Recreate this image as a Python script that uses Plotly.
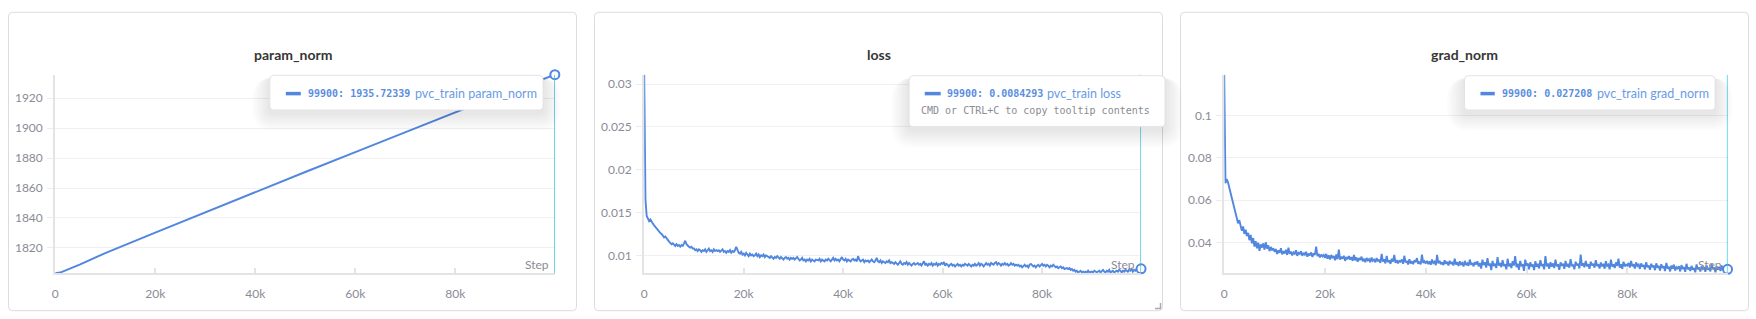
import plotly.graph_objects as go

W, H = 1756, 319

# ---------------- data ----------------
steps = list(range(0, 100000, 250)) + [99900]

param_steps = [0, 1000, 5000, 10000, 20000, 30000, 40000, 50000, 60000, 70000, 80000, 90000, 99900]
param_norm = [1803.0, 1803.5, 1809.0, 1816.5, 1830.2, 1843.8, 1857.3, 1870.7, 1884.0, 1897.3, 1910.5, 1923.3, 1935.72339]

loss = [
    0.0312, 0.0165, 0.0146, 0.0142, 0.0140, 0.0142, 0.0139, 0.0137, 0.0135, 0.0133,
    0.0131, 0.0130, 0.0127, 0.0126, 0.0125, 0.0123, 0.0121, 0.0122, 0.0119, 0.0118,
    0.0116, 0.0115, 0.0113, 0.0114, 0.0112, 0.0111, 0.0113, 0.0111, 0.0112, 0.0110,
    0.0112, 0.0111, 0.0114, 0.0117, 0.0113, 0.0111, 0.0110, 0.0109, 0.0110, 0.0108,
    0.0108, 0.0106, 0.0107, 0.0105, 0.0107, 0.0106, 0.0104, 0.0106, 0.0105, 0.0107,
    0.0104, 0.0106, 0.0108, 0.0105, 0.0106, 0.0104, 0.0107, 0.0105, 0.0106, 0.0105,
    0.0106, 0.0104, 0.0105, 0.0107, 0.0104, 0.0105, 0.0103, 0.0105, 0.0104, 0.0106,
    0.0103, 0.0105, 0.0104, 0.0106, 0.0110, 0.0105, 0.0103, 0.0102, 0.0104, 0.0101,
    0.0102, 0.0100, 0.0103, 0.0101, 0.0099, 0.0102, 0.0100, 0.0101, 0.0099, 0.0100,
    0.0102, 0.0099, 0.0101, 0.0098, 0.0100, 0.0099, 0.0101, 0.0098, 0.0100, 0.0099,
    0.0098, 0.0097, 0.0099, 0.0098, 0.0096, 0.0098, 0.0097, 0.0099, 0.0097, 0.0096,
    0.0098, 0.0097, 0.0095, 0.0097, 0.0098, 0.0096, 0.0097, 0.0095, 0.0097, 0.0096,
    0.0097, 0.0095, 0.0096, 0.0098, 0.0096, 0.0094, 0.0095, 0.0097, 0.0094, 0.0095,
    0.0093, 0.0095, 0.0094, 0.0096, 0.0093, 0.0095, 0.0094, 0.0093, 0.0095, 0.0094,
    0.0094, 0.0096, 0.0093, 0.0095, 0.0094, 0.0093, 0.0095, 0.0094, 0.0096, 0.0095,
    0.0093, 0.0095, 0.0097, 0.0094, 0.0096, 0.0094, 0.0095, 0.0093, 0.0096, 0.0098,
    0.0095, 0.0094, 0.0096, 0.0093, 0.0095, 0.0094, 0.0093, 0.0095, 0.0096, 0.0094,
    0.0095, 0.0093, 0.0099, 0.0095, 0.0093, 0.0094, 0.0095, 0.0092, 0.0094, 0.0093,
    0.0094, 0.0092, 0.0093, 0.0095, 0.0093, 0.0092, 0.0094, 0.0097, 0.0093, 0.0092,
    0.0094, 0.0091, 0.0093, 0.0092, 0.0091, 0.0093, 0.0092, 0.0094, 0.0091, 0.0092,
    0.0091, 0.0090, 0.0092, 0.0090, 0.0089, 0.0091, 0.0093, 0.0090, 0.0089, 0.0091,
    0.0090, 0.0092, 0.0089, 0.0091, 0.0090, 0.0088, 0.0090, 0.0091, 0.0089, 0.0090,
    0.0091, 0.0089, 0.0090, 0.0088, 0.0090, 0.0093, 0.0089, 0.0090, 0.0088, 0.0090,
    0.0089, 0.0091, 0.0088, 0.0090, 0.0089, 0.0091, 0.0088, 0.0090, 0.0089, 0.0091,
    0.0090, 0.0092, 0.0088, 0.0090, 0.0089, 0.0087, 0.0089, 0.0090, 0.0088, 0.0089,
    0.0087, 0.0089, 0.0090, 0.0088, 0.0089, 0.0087, 0.0089, 0.0088, 0.0090, 0.0089,
    0.0088, 0.0090, 0.0089, 0.0087, 0.0089, 0.0088, 0.0090, 0.0088, 0.0089, 0.0091,
    0.0088, 0.0090, 0.0089, 0.0087, 0.0089, 0.0091, 0.0089, 0.0090, 0.0088, 0.0091,
    0.0090, 0.0089, 0.0091, 0.0092, 0.0089, 0.0091, 0.0090, 0.0088, 0.0090, 0.0089,
    0.0091, 0.0089, 0.0090, 0.0088, 0.0089, 0.0091, 0.0089, 0.0090, 0.0088, 0.0089,
    0.0088, 0.0089, 0.0087, 0.0088, 0.0086, 0.0088, 0.0089, 0.0087, 0.0088, 0.0086,
    0.0089, 0.0090, 0.0088, 0.0087, 0.0088, 0.0086, 0.0088, 0.0089, 0.0087, 0.0089,
    0.0090, 0.0088, 0.0089, 0.0087, 0.0089, 0.0088, 0.0086, 0.0088, 0.0087, 0.0089,
    0.0087, 0.0086, 0.0087, 0.0085, 0.0086, 0.0087, 0.0085, 0.0086, 0.0084, 0.0085,
    0.0085, 0.0084, 0.0085, 0.0083, 0.0084, 0.0082, 0.0083, 0.0081, 0.0082, 0.0080,
    0.0081, 0.0082, 0.0080, 0.0081, 0.0080, 0.0081, 0.0080, 0.0082, 0.0080, 0.0081,
    0.0081, 0.0080, 0.0082, 0.0081, 0.0080, 0.0081, 0.0082, 0.0080, 0.0081, 0.0083,
    0.0081, 0.0080, 0.0082, 0.0081, 0.0083, 0.0080, 0.0081, 0.0082, 0.0080, 0.0081,
    0.0082, 0.0081, 0.0083, 0.0082, 0.0080, 0.0082, 0.0081, 0.0083, 0.0082, 0.0081,
    0.0083, 0.0082, 0.0084, 0.0081, 0.0083, 0.0082, 0.0084, 0.0082, 0.0083, 0.0084,
    0.0084293,
]

grad_norm = [
    0.1195, 0.0680, 0.0700, 0.0685, 0.0660, 0.0635, 0.0600, 0.0575, 0.0555, 0.0530,
    0.0515, 0.0490, 0.0505, 0.0470, 0.0455, 0.0475, 0.0440, 0.0460, 0.0430, 0.0445,
    0.0410, 0.0435, 0.0395, 0.0420, 0.0380, 0.0405, 0.0372, 0.0398, 0.0360, 0.0390,
    0.0375, 0.0395, 0.0365, 0.0400, 0.0370, 0.0385, 0.0358, 0.0378, 0.0362, 0.0372,
    0.0355, 0.0368, 0.0345, 0.0362, 0.0350, 0.0372, 0.0343, 0.0358, 0.0347, 0.0365,
    0.0340, 0.0375, 0.0345, 0.0356, 0.0338, 0.0352, 0.0346, 0.0362, 0.0336, 0.0350,
    0.0345, 0.0358, 0.0336, 0.0350, 0.0342, 0.0355, 0.0332, 0.0346, 0.0338, 0.0352,
    0.0330, 0.0348, 0.0340, 0.0380, 0.0335, 0.0345, 0.0328, 0.0342, 0.0333, 0.0340,
    0.0326, 0.0345, 0.0322, 0.0338, 0.0318, 0.0340, 0.0325, 0.0335, 0.0315, 0.0342,
    0.0320, 0.0365, 0.0318, 0.0332, 0.0322, 0.0336, 0.0312, 0.0330, 0.0320, 0.0335,
    0.0318, 0.0330, 0.0312, 0.0340, 0.0315, 0.0328, 0.0308, 0.0325, 0.0316, 0.0332,
    0.0310, 0.0322, 0.0306, 0.0326, 0.0314, 0.0320, 0.0305, 0.0328, 0.0312, 0.0318,
    0.0305, 0.0325, 0.0310, 0.0318, 0.0302, 0.0345, 0.0308, 0.0320, 0.0300, 0.0335,
    0.0306, 0.0315, 0.0298, 0.0322, 0.0308, 0.0340, 0.0302, 0.0316, 0.0300, 0.0312,
    0.0308, 0.0318, 0.0298, 0.0336, 0.0305, 0.0312, 0.0295, 0.0320, 0.0300, 0.0310,
    0.0296, 0.0315, 0.0305, 0.0325, 0.0298, 0.0308, 0.0295, 0.0342, 0.0302, 0.0310,
    0.0300, 0.0312, 0.0296, 0.0310, 0.0294, 0.0318, 0.0302, 0.0308, 0.0292, 0.0340,
    0.0300, 0.0312, 0.0296, 0.0305, 0.0292, 0.0315, 0.0298, 0.0308, 0.0290, 0.0312,
    0.0298, 0.0306, 0.0290, 0.0322, 0.0295, 0.0305, 0.0288, 0.0310, 0.0296, 0.0302,
    0.0285, 0.0312, 0.0292, 0.0300, 0.0288, 0.0318, 0.0294, 0.0302, 0.0286, 0.0306,
    0.0295, 0.0310, 0.0286, 0.0302, 0.0275, 0.0318, 0.0292, 0.0305, 0.0280, 0.0325,
    0.0290, 0.0300, 0.0268, 0.0312, 0.0288, 0.0298, 0.0278, 0.0330, 0.0290, 0.0302,
    0.0282, 0.0315, 0.0288, 0.0296, 0.0272, 0.0322, 0.0286, 0.0300, 0.0278, 0.0310,
    0.0290, 0.0335, 0.0282, 0.0298, 0.0270, 0.0312, 0.0286, 0.0296, 0.0265, 0.0318,
    0.0288, 0.0300, 0.0272, 0.0305, 0.0285, 0.0295, 0.0268, 0.0310, 0.0284, 0.0298,
    0.0276, 0.0315, 0.0288, 0.0296, 0.0272, 0.0335, 0.0286, 0.0300, 0.0275, 0.0306,
    0.0284, 0.0300, 0.0278, 0.0318, 0.0286, 0.0296, 0.0270, 0.0305, 0.0288, 0.0299,
    0.0274, 0.0312, 0.0285, 0.0298, 0.0280, 0.0320, 0.0287, 0.0295, 0.0272, 0.0308,
    0.0290, 0.0298, 0.0276, 0.0342, 0.0288, 0.0300, 0.0282, 0.0312, 0.0286, 0.0296,
    0.0274, 0.0308, 0.0290, 0.0298, 0.0280, 0.0315, 0.0288, 0.0296, 0.0276, 0.0304,
    0.0286, 0.0298, 0.0275, 0.0310, 0.0288, 0.0294, 0.0272, 0.0318, 0.0285, 0.0296,
    0.0278, 0.0305, 0.0288, 0.0322, 0.0280, 0.0296, 0.0274, 0.0308, 0.0286, 0.0294,
    0.0290, 0.0302, 0.0280, 0.0312, 0.0286, 0.0296, 0.0276, 0.0305, 0.0288, 0.0294,
    0.0274, 0.0300, 0.0284, 0.0292, 0.0272, 0.0306, 0.0282, 0.0290, 0.0270, 0.0298,
    0.0282, 0.0290, 0.0268, 0.0300, 0.0280, 0.0288, 0.0266, 0.0296, 0.0278, 0.0286,
    0.0264, 0.0302, 0.0276, 0.0284, 0.0262, 0.0290, 0.0275, 0.0294, 0.0266, 0.0282,
    0.0276, 0.0286, 0.0262, 0.0292, 0.0274, 0.0282, 0.0260, 0.0298, 0.0272, 0.0280,
    0.0264, 0.0288, 0.0270, 0.0278, 0.0258, 0.0295, 0.0272, 0.0280, 0.0262, 0.0286,
    0.0274, 0.0282, 0.0260, 0.0290, 0.0270, 0.0278, 0.0262, 0.0296, 0.0272, 0.0280,
    0.0258, 0.0286, 0.0270, 0.0284, 0.0264, 0.0290, 0.0268, 0.0278, 0.0262, 0.0276,
    0.027208,
]

titles = ["param_norm", "loss", "grad_norm"]
run_name = "pvc_train"
last_labels = ["1935.72339", "0.0084293", "0.027208"]
last_step = 99900

x_tickvals = [0, 20000, 40000, 60000, 80000]
x_ticktext = ["0", "20k", "40k", "60k", "80k"]
y_ticks = [
    ([1820, 1840, 1860, 1880, 1900, 1920], ["1820", "1840", "1860", "1880", "1900", "1920"]),
    ([0.01, 0.015, 0.02, 0.025, 0.03], ["0.01", "0.015", "0.02", "0.025", "0.03"]),
    ([0.04, 0.06, 0.08, 0.1], ["0.04", "0.06", "0.08", "0.1"]),
]
y_ranges = [[1803.0, 1935.72339], [0.0079, 0.0311], [0.0253, 0.1195]]

# ---------------- layout helpers ----------------
BLUE = "#5187de"
CYAN = "#27c2d6"
GREY = "#8a8b96"


def px(x):
    return x / W


def py(y):
    return 1 - y / H


def rrect(x0, y0, x1, y1, r):
    def P(x, y):
        return f"{px(x):.6f},{py(y):.6f}"
    return (f"M {P(x0 + r, y0)} L {P(x1 - r, y0)} Q {P(x1, y0)} {P(x1, y0 + r)} "
            f"L {P(x1, y1 - r)} Q {P(x1, y1)} {P(x1 - r, y1)} L {P(x0 + r, y1)} "
            f"Q {P(x0, y1)} {P(x0, y1 - r)} L {P(x0, y0 + r)} Q {P(x0, y0)} {P(x0 + r, y0)} Z")


panels = [(5.5, 574.5), (592.5, 1161.5), (1179.5, 1748.5)]
panel_top, panel_bot = 12.3, 310.7
plot_x = [(52.3, 552.8), (642.3, 1140.0), (1223.3, 1727.5)]
plot_top, plot_bot = 74.7, 273.3

fig = go.Figure()

series = [(param_steps, param_norm), (steps, loss), (steps, grad_norm)]
line_widths = [2.0, 1.9, 1.9]
for i, (xs, ys) in enumerate(series):
    xa = "x" if i == 0 else f"x{i+1}"
    ya = "y" if i == 0 else f"y{i+1}"
    fig.add_trace(go.Scatter(x=xs, y=ys, mode="lines", xaxis=xa, yaxis=ya,
                             line=dict(color=BLUE, width=line_widths[i]),
                             hoverinfo="skip", showlegend=False))

layout = dict(width=W, height=H, margin=dict(l=0, r=0, t=0, b=0),
              paper_bgcolor="white", plot_bgcolor="rgba(0,0,0,0)",
              font=dict(family="Lato", size=12, color=GREY), hovermode=False)

for i in range(3):
    sx = "" if i == 0 else str(i + 1)
    x0, x1 = plot_x[i]
    layout["xaxis" + sx] = dict(
        domain=[px(x0), px(x1)], range=[0, last_step], anchor="y" + sx,
        showgrid=False, zeroline=False, showline=True, linecolor="#e4e4e6", linewidth=2,
        ticks="inside", ticklen=5, tickwidth=2, tickcolor="#e4e4e6",
        tickvals=x_tickvals, ticktext=x_ticktext, ticklabelstandoff=8,
        tickfont=dict(family="Lato", size=12, color=GREY), fixedrange=True)
    layout["yaxis" + sx] = dict(
        domain=[py(plot_bot), py(plot_top)], range=y_ranges[i], anchor="x" + sx,
        showgrid=True, gridcolor="#f0f0f2", gridwidth=1, zeroline=False,
        showline=True, linecolor="#e4e4e6", linewidth=2,
        ticks="outside", ticklen=6, tickwidth=1, tickcolor="#ececee",
        tickvals=y_ticks[i][0], ticktext=y_ticks[i][1], ticklabelstandoff=2,
        tickfont=dict(family="Lato", size=12, color=GREY), fixedrange=True)

shapes = []
annotations = []

# panel boxes
for (a, b) in panels:
    shapes.append(dict(type="path", path=rrect(a, panel_top, b, panel_bot, 4),
                       xref="paper", yref="paper", line=dict(color="#dcdcde", width=1),
                       fillcolor="white", layer="below"))

# cyan hover line
for i in range(3):
    xa = "x" if i == 0 else f"x{i+1}"
    shapes.append(dict(type="line", xref=xa, yref="paper", x0=last_step, x1=last_step,
                       y0=py(plot_bot), y1=py(plot_top), line=dict(color=CYAN, width=1.3),
                       layer="above"))

# resize handle on the middle panel
shapes.append(dict(type="path",
                   path=f"M {px(1159.5)},{py(303)} L {px(1159.5)},{py(308.5)} L {px(1154)},{py(308.5)}",
                   xref="paper", yref="paper", line=dict(color="#a9a9ad", width=1.5)))

# titles and Step labels
for i, (a, b) in enumerate(panels):
    annotations.append(dict(text=f"<b>{titles[i]}</b>", x=px((a + b) / 2), y=py(54.5),
                            xref="paper", yref="paper", showarrow=False,
                            xanchor="center", yanchor="middle",
                            font=dict(family="Lato", size=14, color="#363636")))
    annotations.append(dict(text="Step", x=px(plot_x[i][1] - 6), y=py(264.5),
                            xref="paper", yref="paper", showarrow=False,
                            xanchor="right", yanchor="middle", borderpad=0, borderwidth=0,
                            font=dict(family="Lato", size=12, color=GREY)))

# tooltips
tooltips = [
    dict(box=(267.3, 75.3, 541.0, 110.0), sw=(283.3, 298.3), mono=306.0, sans=412.3, extra=None),
    dict(box=(907.7, 75.7, 1164.0, 126.7), sw=(923.3, 939.3), mono=945.3, sans=1045.7, extra=920.0),
    dict(box=(1464.0, 75.7, 1715.0, 110.0), sw=(1480.0, 1494.3), mono=1501.7, sans=1596.7, extra=None),
]
for i, t in enumerate(tooltips):
    x0, y0, x1, y1 = t["box"]
    for k in range(1, 9):
        e = 2.2 * k
        shapes.append(dict(type="path", path=rrect(x0 - e, y0 + 2, x1 + e, y1 + 3 + e, 4 + e),
                           xref="paper", yref="paper", line=dict(width=0),
                           fillcolor="rgba(20,20,40,0.012)", layer="above"))
    shapes.append(dict(type="path", path=rrect(x0, y0, x1, y1, 4), xref="paper", yref="paper",
                       line=dict(color="#e3e3e6", width=1), fillcolor="white", layer="above"))
    shapes.append(dict(type="line", xref="paper", yref="paper", x0=px(t["sw"][0]), x1=px(t["sw"][1]),
                       y0=py(93.6), y1=py(93.6), line=dict(color=BLUE, width=3.5), layer="above"))
    annotations.append(dict(text=f"<b>{last_step}: {last_labels[i]}</b>", x=px(t["mono"]), y=py(93.3),
                            xref="paper", yref="paper", showarrow=False, xanchor="left", yanchor="middle",
                            borderpad=0, borderwidth=0,
                            font=dict(family="DejaVu Sans Mono", size=10, color="#5b8ee0")))
    annotations.append(dict(text=f"{run_name} {titles[i]}", x=px(t["sans"]), y=py(93.3),
                            xref="paper", yref="paper", showarrow=False, xanchor="left", yanchor="middle",
                            borderpad=0, borderwidth=0,
                            font=dict(family="Lato", size=12.5, color="#6a9be6")))
    if t["extra"] is not None:
        annotations.append(dict(text="CMD or CTRL+C to copy tooltip contents", x=px(t["extra"]), y=py(110.3),
                                xref="paper", yref="paper", showarrow=False, xanchor="left", yanchor="middle",
                                borderpad=0, borderwidth=0,
                                font=dict(family="DejaVu Sans Mono", size=10, color="#8a8b93")))

layout["shapes"] = shapes
layout["annotations"] = annotations
fig.update_layout(**layout)

# end-point markers drawn last so they sit above the hover line
for i, (xs, ys) in enumerate(series):
    xa = "x" if i == 0 else f"x{i+1}"
    ya = "y" if i == 0 else f"y{i+1}"
    fig.add_trace(go.Scatter(x=[xs[-1]], y=[ys[-1]], mode="markers", xaxis=xa, yaxis=ya,
                             marker=dict(size=9, color="white", line=dict(color=BLUE, width=2)),
                             cliponaxis=False, hoverinfo="skip", showlegend=False))

fig.write_html("out.html", config={"displayModeBar": False})
